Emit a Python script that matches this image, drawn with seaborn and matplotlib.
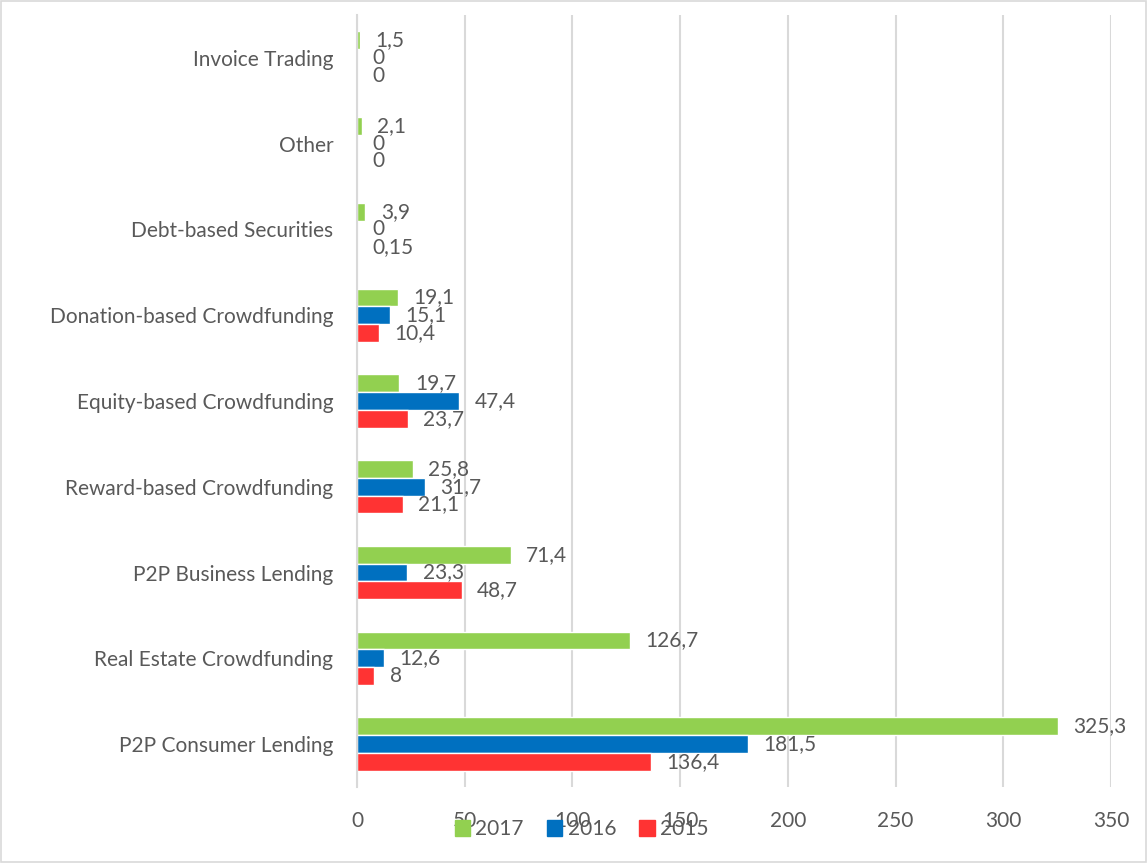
import matplotlib
matplotlib.use("Agg")
import matplotlib.pyplot as plt
import seaborn as sns
import pandas as pd
from matplotlib.patches import Rectangle

categories = [
    "Invoice Trading",
    "Other",
    "Debt-based Securities",
    "Donation-based Crowdfunding",
    "Equity-based Crowdfunding",
    "Reward-based Crowdfunding",
    "P2P Business Lending",
    "Real Estate Crowdfunding",
    "P2P Consumer Lending",
]
years = ["2017", "2016", "2015"]
values_2017 = [1.5, 2.1, 3.9, 19.1, 19.7, 25.8, 71.4, 126.7, 325.3]
values_2016 = [0, 0, 0, 15.1, 47.4, 31.7, 23.3, 12.6, 181.5]
values_2015 = [0, 0, 0.15, 10.4, 23.7, 21.1, 48.7, 8, 136.4]
colors = {"2017": "#92D050", "2016": "#0070C0", "2015": "#FF3333"}

df = pd.DataFrame({
    "category": categories * 3,
    "year": [y for y in years for _ in categories],
    "value": values_2017 + values_2016 + values_2015,
})

sns.set_style("white")
plt.rcParams["font.family"] = ["Lato", "DejaVu Sans"]
text_color = "#595959"
fs = 15

fig = plt.figure(figsize=(11.47, 8.63), dpi=100)
ax = fig.add_axes([0.3113, 0.0881, 0.6573, 0.8945])

sns.barplot(
    data=df, y="category", x="value", hue="year",
    order=categories, hue_order=years, palette=colors,
    orient="h", width=0.62, gap=0, saturation=1,
    errorbar=None, ax=ax, legend=False,
)

def fmt(v):
    s = f"{v:g}"
    return s.replace(".", ",")

for container, year in zip(ax.containers, years):
    vals = df[df["year"] == year].set_index("category").loc[categories, "value"]
    ax.bar_label(container, labels=[fmt(v) for v in vals], padding=11,
                 fontsize=fs, color=text_color)

ax.set_xlim(0, 350)
ax.set_xticks(range(0, 351, 50))
ax.grid(axis="x", color="#D9D9D9", linewidth=1.5)
ax.set_axisbelow(True)
for side in ["top", "right", "bottom"]:
    ax.spines[side].set_visible(False)
ax.spines["left"].set_color("#D9D9D9")
ax.spines["left"].set_linewidth(1.5)
ax.set_xlabel("")
ax.set_ylabel("")
ax.tick_params(axis="x", length=0, pad=17, labelsize=fs, labelcolor=text_color)
ax.tick_params(axis="y", length=0, pad=17, labelsize=fs, labelcolor=text_color)

handles = [Rectangle((0, 0), 1, 1, color=colors[y]) for y in years]
fig.legend(handles, years, loc="center", bbox_to_anchor=(0.507, 0.039),
           ncol=3, frameon=False, fontsize=fs, labelcolor=text_color,
           handlelength=0.75, handleheight=0.75, handletextpad=0.25,
           columnspacing=1.1)

fig.patches.append(Rectangle((0.001, 0.001), 0.998, 0.998, transform=fig.transFigure,
                             fill=False, edgecolor="#D9D9D9", linewidth=1.2))

fig.savefig("out.png", dpi=100)
